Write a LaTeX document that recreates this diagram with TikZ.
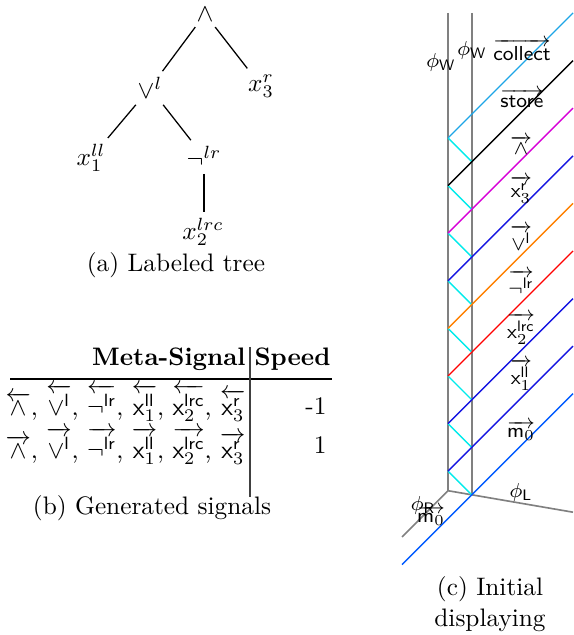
\documentclass[tikz,border=0pt]{standalone}
\usepackage{amsmath}
\begin{document}
\begin{tikzpicture}[x=0.3953pt,y=-0.3953pt]
\useasboundingbox (0,0) rectangle (573,635);
\definecolor{collectc}{RGB}{30,165,230}
\definecolor{sigblue}{RGB}{20,20,225}
\definecolor{mblue}{RGB}{0,90,255}
\definecolor{sigmag}{RGB}{215,0,215}
\definecolor{bounce}{RGB}{0,235,235}
\tikzset{
  tr/.style={inner sep=2.2pt},
  edge/.style={line width=0.5pt},
  grayl/.style={draw=gray, line width=0.65pt},
  sigl/.style={line width=0.55pt},
  bnc/.style={draw=bounce, line width=0.55pt},
  lab/.style={font=\fontsize{8.5}{10}\selectfont\sffamily, inner sep=0pt},
  rowl/.style={inner sep=0pt, anchor=east}
}
% ---------- (a) tree
\node[tr] (and) at (205,14) {$\wedge$};
\node[tr] (or) at (150,88) {$\vee^l$};
\node[tr] (x3) at (261,86) {$x_3^r$};
\node[tr] (x1) at (91,158) {$x_1^{ll}$};
\node[tr] (neg) at (204,157) {$\neg^{lr}$};
\node[tr] (x2) at (203,232) {$x_2^{lrc}$};
\node (capa) at (176,265) {(a) Labeled tree};
\draw[edge] (and) -- (or);
\draw[edge] (and) -- (x3);
\draw[edge] (or) -- (x1);
\draw[edge] (or) -- (neg);
\draw[edge] (neg) -- (neg |- x2.north);
% ---------- (b) table
\node[rowl] (hms) at (246,359) {\textbf{Meta-Signal}};
\node[inner sep=0pt, anchor=west] (hsp) at (254,359) {\textbf{Speed}};
\coordinate (rl) at (10,379);
\coordinate (rr) at (332,379);
\draw[line width=0.5pt] (rl) -- (rr);
\coordinate (vt) at (250,347);
\coordinate (vb) at (250,497);
\draw[line width=0.5pt, draw=black!75] (vt) -- (vb);
\node[rowl] (row1) at (246,403) {$\overleftarrow{\wedge}$, $\overleftarrow{\vee^{\mathsf{l}}}$, $\overleftarrow{\neg^{\mathsf{lr}}}$, $\overleftarrow{\mathsf{x}_1^{\mathsf{ll}}}$, $\overleftarrow{\mathsf{x}_2^{\mathsf{lrc}}}$, $\overleftarrow{\mathsf{x}_3^{\mathsf{r}}}$};
\node[rowl] (row2) at (246,446) {$\overrightarrow{\wedge}$, $\overrightarrow{\vee^{\mathsf{l}}}$, $\overrightarrow{\neg^{\mathsf{lr}}}$, $\overrightarrow{\mathsf{x}_1^{\mathsf{ll}}}$, $\overrightarrow{\mathsf{x}_2^{\mathsf{lrc}}}$, $\overrightarrow{\mathsf{x}_3^{\mathsf{r}}}$};
\node[rowl] (sp1) at (327,406) {-1};
\node[rowl] (sp2) at (327,445) {1};
\node (capb) at (152,508) {(b) Generated signals};
% ---------- (c) initial displaying
\draw[grayl] (448,13) -- (448,490.7);
\draw[grayl] (471.8,13) -- (471.8,494.8);
\draw[grayl] (448,490.7) -- (402,537);
\draw[grayl] (448,490.7) -- (573,512.2);
\foreach \k in {0,...,7} {
  \draw[bnc] (448,138+47.6*\k) -- ++(23.8,23.8);
}
\foreach \c [count=\k from 0] in {collectc,black,sigmag,sigblue,orange,red,sigblue,sigblue} {
  \draw[sigl,draw=\c] (448,138+47.6*\k) -- ++(125,-125);
}
\draw[sigl,draw=mblue] (402,564.6) -- (573,393.6);
\node[lab] (lcol) at (522,50) {$\overrightarrow{\mathsf{collect}}$};
\node[lab] (lsto) at (522,98) {$\overrightarrow{\mathsf{store}}$};
\node[lab] (land) at (521,145) {$\overrightarrow{\wedge}$};
\node[lab] (lx3) at (521,190) {$\overrightarrow{\mathsf{x}_3^{\mathsf{r}}}$};
\node[lab] (lor) at (521,238) {$\overrightarrow{\vee^{\mathsf{l}}}$};
\node[lab] (lneg) at (521,283) {$\overrightarrow{\neg^{\mathsf{lr}}}$};
\node[lab] (lx2) at (521,329) {$\overrightarrow{\mathsf{x}_2^{\mathsf{lrc}}}$};
\node[lab] (lx1) at (521,375) {$\overrightarrow{\mathsf{x}_1^{\mathsf{ll}}}$};
\node[lab] (lm0) at (521,431) {$\overrightarrow{\mathsf{m}_0}$};
\node[lab] (lwl) at (441,62) {$\phi_{\mathsf{W}}$};
\node[lab] (lwr) at (472,50) {$\phi_{\mathsf{W}}$};
\node[lab] (lpr) at (423,505) {$\phi_{\mathsf{R}}$};
\node[lab] (lm0b) at (431,516) {$\overrightarrow{\mathsf{m}_0}$};
\node[lab] (lpl) at (521,492) {$\phi_{\mathsf{L}}$};
\node[align=center, inner sep=0pt] (capc) at (490,604) {(c) Initial\\[0pt]displaying};
\end{tikzpicture}
\end{document}
